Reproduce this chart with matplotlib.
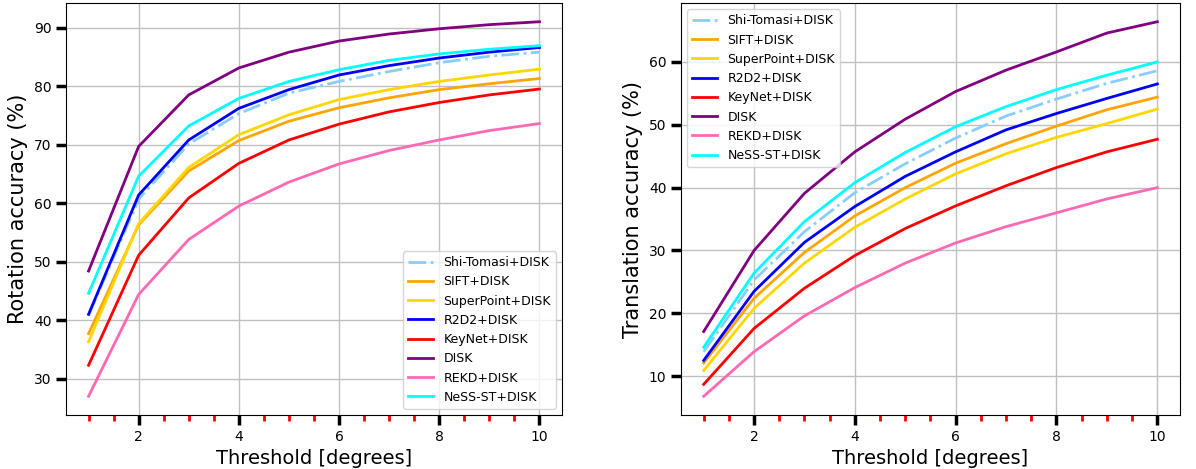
import numpy as np
import matplotlib
matplotlib.use("Agg")
import matplotlib.pyplot as plt
from matplotlib.ticker import MultipleLocator

thresholds = [1, 2, 3, 4, 5, 6, 7, 8, 9, 10]

methods = ["Shi-Tomasi+DISK", "SIFT+DISK", "SuperPoint+DISK", "R2D2+DISK",
           "KeyNet+DISK", "DISK", "REKD+DISK", "NeSS-ST+DISK"]
colors = ["lightskyblue", "orange", "gold", "blue", "red", "purple", "hotpink", "cyan"]
styles = ["-.", "-", "-", "-", "-", "-", "-", "-"]

# rotation accuracy (%)
rot_shi = [40.8, 60.7, 70.1, 75.3, 78.8, 80.8, 82.5, 84.0, 85.1, 85.8]
rot_sift = [37.7, 56.3, 65.5, 70.7, 74.0, 76.3, 78.0, 79.4, 80.4, 81.3]
rot_superpoint = [36.3, 56.5, 66.1, 71.7, 75.1, 77.7, 79.4, 80.8, 81.9, 82.9]
rot_r2d2 = [41.0, 61.4, 70.8, 76.2, 79.4, 81.9, 83.5, 84.8, 85.8, 86.6]
rot_keynet = [32.3, 51.1, 60.9, 66.8, 70.8, 73.5, 75.6, 77.2, 78.5, 79.5]
rot_disk = [48.4, 69.7, 78.5, 83.1, 85.8, 87.7, 88.9, 89.8, 90.5, 91.0]
rot_rekd = [27.0, 44.4, 53.8, 59.5, 63.6, 66.7, 69.0, 70.8, 72.4, 73.6]
rot_ness = [44.6, 64.6, 73.2, 77.9, 80.8, 82.8, 84.4, 85.5, 86.3, 86.9]

# translation accuracy (%)
tr_shi = [13.9, 25.3, 33.0, 39.2, 43.8, 47.9, 51.4, 54.1, 56.6, 58.6]
tr_sift = [12.1, 22.4, 29.7, 35.5, 40.0, 43.9, 47.0, 49.8, 52.4, 54.4]
tr_superpoint = [10.9, 20.8, 28.0, 33.7, 38.2, 42.2, 45.4, 48.0, 50.2, 52.5]
tr_r2d2 = [12.5, 23.5, 31.3, 37.0, 41.8, 45.7, 49.2, 51.8, 54.2, 56.5]
tr_keynet = [8.7, 17.6, 24.0, 29.2, 33.5, 37.1, 40.3, 43.2, 45.7, 47.7]
tr_disk = [17.1, 30.0, 39.1, 45.7, 50.9, 55.3, 58.7, 61.6, 64.6, 66.4]
tr_rekd = [6.8, 13.9, 19.6, 24.1, 28.0, 31.2, 33.8, 36.0, 38.2, 40.0]
tr_ness = [14.6, 26.4, 34.6, 40.8, 45.6, 49.7, 52.9, 55.6, 57.9, 60.0]

rot_all = [rot_shi, rot_sift, rot_superpoint, rot_r2d2, rot_keynet, rot_disk, rot_rekd, rot_ness]
tr_all = [tr_shi, tr_sift, tr_superpoint, tr_r2d2, tr_keynet, tr_disk, tr_rekd, tr_ness]

fig = plt.figure(figsize=(11.96, 4.69), dpi=100)
ax1 = fig.add_axes([0.0552, 0.1151, 0.4147, 0.8785])
ax2 = fig.add_axes([0.5694, 0.1151, 0.4172, 0.8785])


def draw(ax, data, ylabel, legend_loc):
    for vals, name, c, ls in zip(data, methods, colors, styles):
        ax.plot(thresholds, vals, color=c, linestyle=ls, linewidth=2, label=name)
    ax.set_xlabel("Threshold [degrees]", fontsize=14)
    ax.set_ylabel(ylabel, fontsize=15, labelpad=4)
    ax.xaxis.set_major_locator(MultipleLocator(2))
    ax.xaxis.set_minor_locator(MultipleLocator(0.5))
    ax.tick_params(axis="both", which="major", labelsize=10, length=7, width=2.5)
    ax.tick_params(axis="x", which="minor", length=4, width=2, color="red")
    ax.grid(True, which="major", color="#c0c0c0", linewidth=1)
    ax.legend(loc=legend_loc, fontsize=9)


draw(ax1, rot_all, "Rotation accuracy (%)", "lower right")
draw(ax2, tr_all, "Translation accuracy (%)", "upper left")

fig.savefig("out.png", dpi=100)
